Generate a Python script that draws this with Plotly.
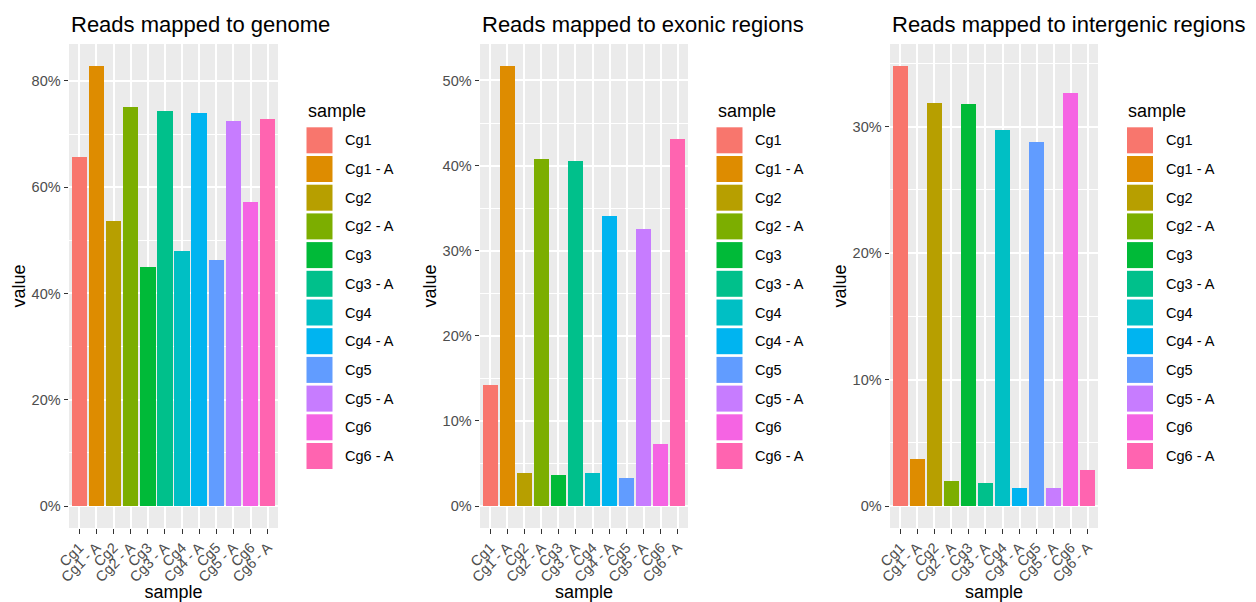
import plotly.graph_objects as go

# ---------------- data ----------------
samples = ["Cg1", "Cg1 - A", "Cg2", "Cg2 - A", "Cg3", "Cg3 - A",
           "Cg4", "Cg4 - A", "Cg5", "Cg5 - A", "Cg6", "Cg6 - A"]
genome_pct = [65.6, 82.8, 53.6, 75.0, 45.0, 74.3, 48.0, 74.0, 46.2, 72.4, 57.2, 72.9]
exonic_pct = [14.2, 51.7, 3.9, 40.8, 3.6, 40.5, 3.9, 34.1, 3.3, 32.5, 7.3, 43.1]
intergenic_pct = [34.8, 3.7, 31.9, 2.0, 31.8, 1.8, 29.7, 1.45, 28.8, 1.45, 32.7, 2.85]
panel_titles = ["Reads mapped to genome", "Reads mapped to exonic regions",
                "Reads mapped to intergenic regions"]
panel_values = [genome_pct, exonic_pct, intergenic_pct]
panel_dticks = [20, 10, 10]
legend_title = "sample"
x_title = "sample"
y_title = "value"

# ggplot2 default hue palette for 12 levels
colors = ["#F8766D", "#DE8C00", "#B79F00", "#7CAE00", "#00BA38", "#00C08B",
          "#00BFC4", "#00B4F0", "#619CFF", "#C77CFF", "#F564E3", "#FF64B0"]

# ---------------- layout helpers ----------------
W, H = 1256, 602
FONT = "Liberation Sans, Arial, Helvetica, sans-serif"
panel_left = [69, 480, 890]
panel_right = [278, 688, 1098]
legend_left = [306.5, 716.5, 1127]
plot_top, plot_bottom = 44, 528


def px(x):
    return x / W


def py(y):
    return 1 - y / H


fig = go.Figure()
layout = dict(
    width=W, height=H, autosize=False,
    margin=dict(l=0, r=0, t=0, b=0, autoexpand=False),
    paper_bgcolor="white", plot_bgcolor="#EBEBEB",
    font=dict(family=FONT, color="black"),
    showlegend=False, bargap=0,
)
annotations = []
shapes = []

for i, (title, vals, dt) in enumerate(zip(panel_titles, panel_values, panel_dticks)):
    sfx = "" if i == 0 else str(i + 1)
    fig.add_trace(go.Bar(
        x=samples, y=vals, width=0.9,
        marker=dict(color=colors, line=dict(width=0)),
        xaxis="x" + sfx, yaxis="y" + sfx, showlegend=False,
        hovertemplate="%{x}: %{y}%<extra></extra>",
    ))
    vmax = max(vals)
    yr = [-0.05 * vmax, 1.05 * vmax]
    majors = list(range(0, int(yr[1]) + 1, dt))
    layout["xaxis" + sfx] = dict(
        domain=[px(panel_left[i]), px(panel_right[i])],
        anchor="y" + sfx, type="category", categoryorder="array", categoryarray=samples,
        range=[-0.6, len(samples) - 0.4],
        tickmode="array", tickvals=samples, ticktext=samples,
        showgrid=True, gridcolor="white", gridwidth=1.8,
        ticks="outside", ticklen=4.5, tickwidth=1.1, tickcolor="#333333",
        tickangle=-45, tickfont=dict(size=14.5, color="#4D4D4D", family=FONT),
        showline=False, zeroline=False, automargin=False,
        title=dict(text=x_title, font=dict(size=18, color="black", family=FONT), standoff=2),
        fixedrange=True,
    )
    layout["yaxis" + sfx] = dict(
        domain=[py(plot_bottom), py(plot_top)],
        anchor="x" + sfx, range=yr,
        tickmode="array", tickvals=majors, ticktext=[f"{m}%" for m in majors],
        showgrid=True, gridcolor="white", gridwidth=1.8,
        minor=dict(tick0=0, dtick=dt / 2, showgrid=True, gridcolor="white",
                   gridwidth=0.9, ticks=""),
        ticks="outside", ticklen=4.5, tickwidth=1.1, tickcolor="#333333",
        tickfont=dict(size=14.5, color="#4D4D4D", family=FONT),
        showline=False, zeroline=False, automargin=False,
        title=dict(text=y_title, font=dict(size=18, color="black", family=FONT), standoff=1),
        fixedrange=True,
    )
    # panel title
    annotations.append(dict(
        text=title, xref="paper", yref="paper", x=px(panel_left[i]), y=py(24),
        xanchor="left", yanchor="middle", showarrow=False,
        font=dict(size=22, color="black", family=FONT),
    ))
    # legend (ggplot style)
    lx = legend_left[i]
    annotations.append(dict(
        text=legend_title, xref="paper", yref="paper", x=px(lx - 1), y=py(111),
        xanchor="left", yanchor="middle", showarrow=False,
        font=dict(size=18, color="black", family=FONT),
    ))
    key_top0, pitch, key_size = 127.3, 28.7, 26
    for j, (s, c) in enumerate(zip(samples, colors)):
        top = key_top0 + j * pitch
        shapes.append(dict(
            type="rect", xref="paper", yref="paper",
            x0=px(lx), x1=px(lx + key_size), y0=py(top + key_size), y1=py(top),
            fillcolor=c, line=dict(width=0), layer="above",
        ))
        annotations.append(dict(
            text=s, xref="paper", yref="paper", x=px(lx + 36.5), y=py(top + key_size / 2),
            xanchor="left", yanchor="middle", showarrow=False,
            font=dict(size=14.5, color="black", family=FONT),
        ))

layout["annotations"] = annotations
layout["shapes"] = shapes
fig.update_layout(**layout)
fig.write_html(
    "out.html",
    config={"displayModeBar": False},
    post_script="document.body.style.margin='0px';document.body.style.padding='0px';document.body.style.overflow='hidden';",
)
